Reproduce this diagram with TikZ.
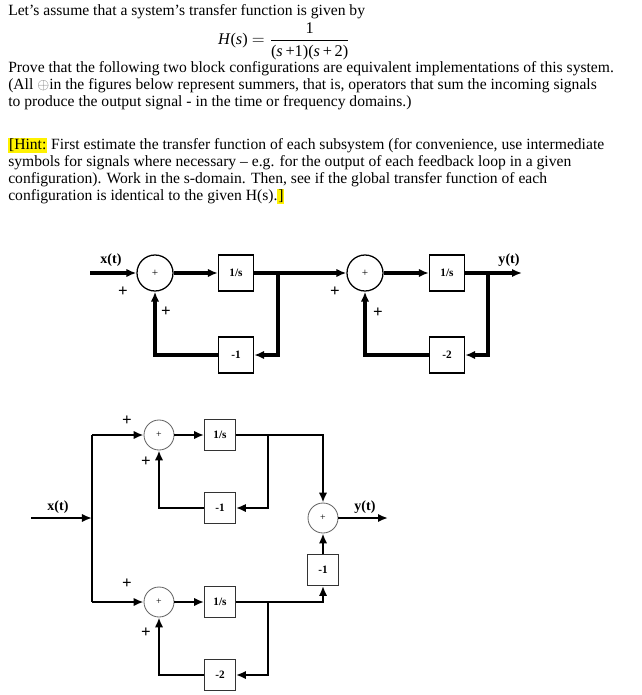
\documentclass[tikz,border=0pt]{standalone}
\usepackage{amsmath}
\usepackage{fontspec}
\setmainfont{Liberation Serif}
\usetikzlibrary{arrows.meta}
\setlength{\fboxsep}{0.6pt}

\begin{document}
\begin{tikzpicture}[x=0.025cm,y=-0.025cm,>={Latex[length=2.5mm,width=2.1mm]},
  txt/.style={anchor=base west,inner sep=0pt,font=\fontsize{11.1}{12}\selectfont},
  sumA/.style={draw,circle,minimum size=0.9cm,inner sep=0pt,line width=0.9pt,font=\footnotesize},
  blkA/.style={draw,minimum width=0.875cm,minimum height=0.9cm,inner sep=0pt,line width=0.9pt,font=\footnotesize\bfseries},
  sumB/.style={draw=black!60,circle,minimum size=0.75cm,inner sep=0pt,line width=0.6pt,font=\scriptsize},
  blkB/.style={draw=black!80,minimum width=0.775cm,minimum height=0.775cm,inner sep=0pt,line width=0.6pt,font=\footnotesize\bfseries},
  wireA/.style={line width=2.2pt},
  wireB/.style={line width=1.5pt},
  sgn/.style={font=\large\bfseries,inner sep=0pt},
  sig/.style={font=\normalsize\bfseries,inner sep=0pt}]
\useasboundingbox (0,0) rectangle (642,695);

\node[txt] (t_l1) at (8,16) {Let's assume that a system's transfer function is given by};
\node[inner sep=0pt,font=\fontsize{11.6}{12}\selectfont] (t_eq) at (284,41) {\textit{H}(\textit{s}) $=\dfrac{\textrm{1}}{\textrm{(\textit{s}\,+1)(\textit{s}\,+\,2)}}$};
\node[txt] (t_l2) at (8,73) {Prove that the following two block configurations are equivalent implementations of this system.};
\node[txt] (t_l3) at (8,90) {(All {\color{black!55}$\oplus$}in the figures below represent summers, that is, operators that sum the incoming signals};
\node[txt] (t_l4) at (8,107) {to produce the output signal - in the time or frequency domains.)};
\node[txt] (t_h1) at (8,150) {\colorbox{yellow}{[Hint:} First estimate the transfer function of each subsystem (for convenience, use intermediate};
\node[txt] (t_h2) at (8,167) {symbols for signals where necessary -- e.g. for the output of each feedback loop in a given};
\node[txt] (t_h3) at (8,184) {configuration). Work in the s-domain. Then, see if the global transfer function of each};
\node[txt] (t_h4) at (8,201) {configuration is identical to the given H(s).\colorbox{yellow}{]}};

\coordinate (a_in) at (90,273);
\node[sumA] (a_sum1) at (155,273) {+};
\node[blkA] (a_int1) at (236,273) {1/s};
\coordinate (a_j1) at (278,273);
\node[blkA] (a_fb1) at (236,355) {-1};
\node[sumA] (a_sum2) at (365,273) {+};
\node[blkA] (a_int2) at (447,273) {1/s};
\coordinate (a_j2) at (488,273);
\coordinate (a_out) at (522,273);
\node[blkA] (a_fb2) at (447,355) {-2};
\node[sig] (a_x) at (111,260) {x(t)};
\node[sig] (a_y) at (509,260) {y(t)};
\node[sgn] (a_p1) at (123,292) {+};
\node[sgn] (a_p2) at (166,312) {+};
\node[sgn] (a_p3) at (335,292) {+};
\node[sgn] (a_p4) at (378,313) {+};

\draw[wireA,->] (a_in) -- (a_sum1);
\draw[wireA,->] (a_sum1) -- (a_int1);
\draw[wireA,->] (a_int1) -- (a_sum2);
\draw[wireA,->] (a_j1) |- (a_fb1.east);
\draw[wireA,->] (a_fb1.west) -| (a_sum1.south);
\draw[wireA,->] (a_sum2) -- (a_int2);
\draw[wireA,->] (a_int2) -- (a_out);
\draw[wireA,->] (a_j2) |- (a_fb2.east);
\draw[wireA,->] (a_fb2.west) -| (a_sum2.south);

\coordinate (b_in) at (31,518);
\coordinate (b_split) at (92,518);
\coordinate (b_top) at (92,435);
\coordinate (b_bot) at (92,602);
\node[sumB] (b_sum1) at (159,435) {+};
\node[blkB] (b_int1) at (220,435) {1/s};
\coordinate (b_j1) at (268,435);
\node[blkB] (b_fb1) at (220,508) {-1};
\node[sumB] (b_sumo) at (323,518) {+};
\coordinate (b_out) at (388,518);
\node[blkB] (b_gain) at (323,570) {-1};
\node[sumB] (b_sum2) at (159,602) {+};
\node[blkB] (b_int2) at (220,602) {1/s};
\coordinate (b_j2) at (268,602);
\node[blkB] (b_fb2) at (220,675) {-2};
\node[sig] (b_x) at (58,507) {x(t)};
\node[sig] (b_y) at (365,507) {y(t)};
\node[sgn] (b_p1) at (127,421) {+};
\node[sgn] (b_p2) at (146,462) {+};
\node[sgn] (b_p3) at (127,584) {+};
\node[sgn] (b_p4) at (146,633) {+};

\draw[wireB,->] (b_in) -- (b_split);
\draw[wireB] (b_top) -- (b_bot);
\draw[wireB,->] (b_top) -- (b_sum1);
\draw[wireB,->] (b_sum1) -- (b_int1);
\draw[wireB,->] (b_int1) -| (b_sumo.north);
\draw[wireB,->] (b_j1) |- (b_fb1.east);
\draw[wireB,->] (b_fb1.west) -| (b_sum1.south);
\draw[wireB,->] (b_bot) -- (b_sum2);
\draw[wireB,->] (b_sum2) -- (b_int2);
\draw[wireB,->] (b_int2) -| (b_gain.south);
\draw[wireB,->] (b_gain) -- (b_sumo);
\draw[wireB,->] (b_j2) |- (b_fb2.east);
\draw[wireB,->] (b_fb2.west) -| (b_sum2.south);
\draw[wireB,->] (b_sumo) -- (b_out);
\end{tikzpicture}
\end{document}
